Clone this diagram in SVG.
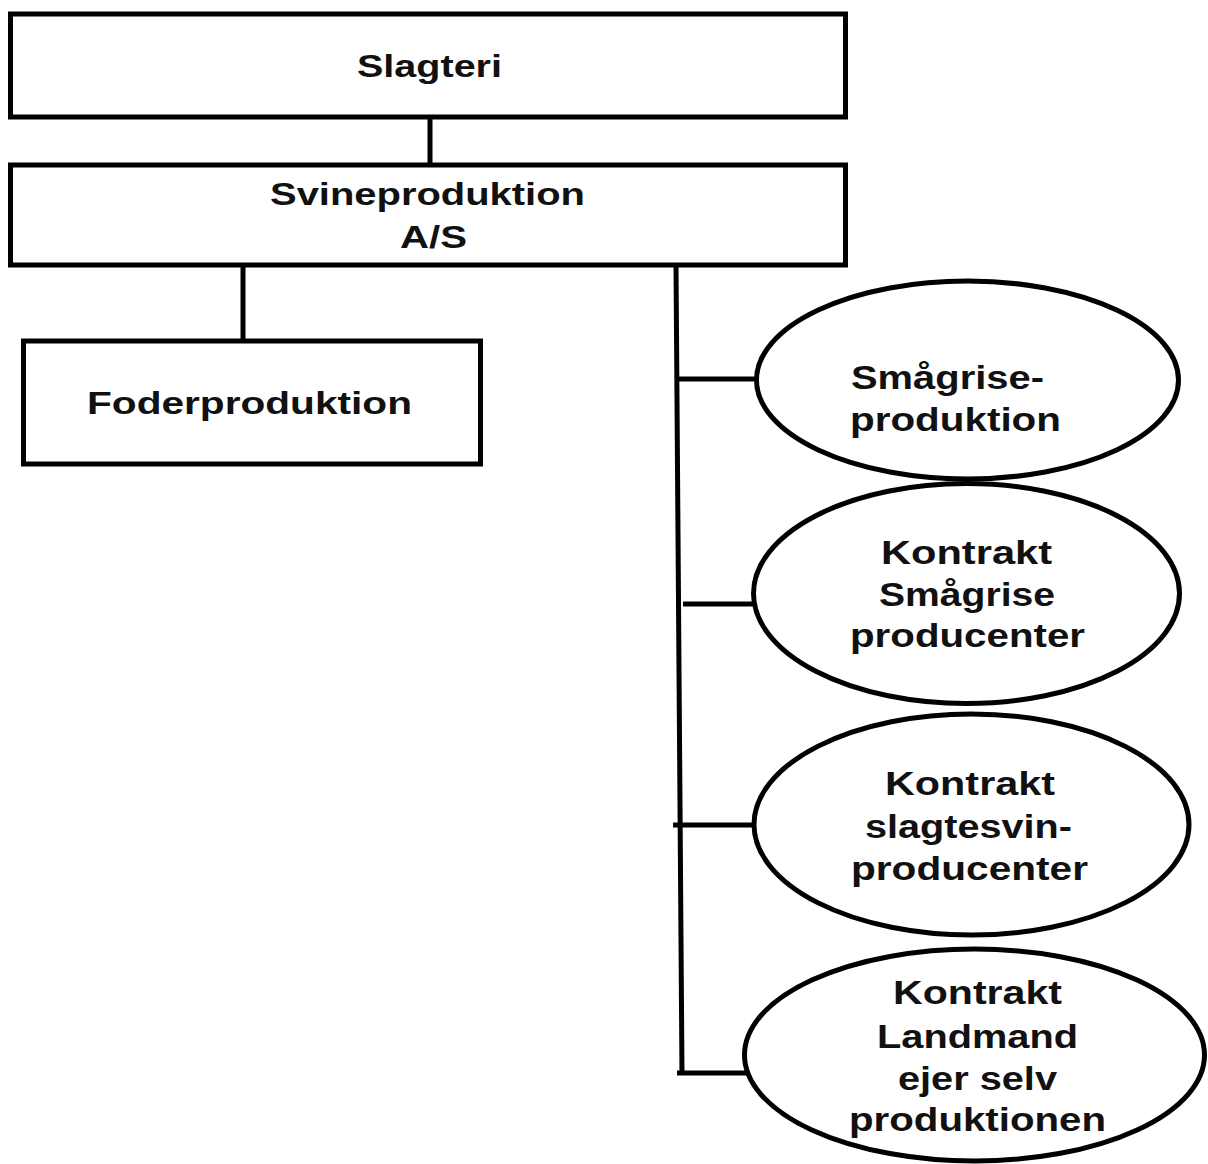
<svg xmlns="http://www.w3.org/2000/svg" width="1208" height="1164" viewBox="0 0 1208 1164">
<style>
.box{fill:#fff;stroke:#000;stroke-width:5}
.ell{fill:#fff;stroke:#000;stroke-width:5}
.ln{stroke:#000;stroke-width:5;fill:none;stroke-linecap:butt}
.t{font-family:"Liberation Sans",Arial,sans-serif;font-weight:bold;fill:#111;text-anchor:start}
.tb{font-size:31px}
.te{font-size:34px}
</style>
<rect width="1208" height="1164" fill="#fff"/>
<g id="connectors">
<line class="ln" x1="430" y1="117" x2="430" y2="166"/>
<line class="ln" x1="243" y1="264" x2="243" y2="342"/>
<line class="ln" x1="676" y1="264" x2="682" y2="1075"/>
<line class="ln" x1="676" y1="379" x2="756" y2="379"/>
<line class="ln" x1="683" y1="604" x2="762" y2="604"/>
<line class="ln" x1="673" y1="825" x2="754" y2="825"/>
<line class="ln" x1="677" y1="1073" x2="755" y2="1073"/>
</g>
<g id="slagteri">
<rect class="box" x="10.5" y="14" width="835" height="103"/>
<text class="t tb" x="357" y="77" textLength="145" lengthAdjust="spacingAndGlyphs">Slagteri</text>
</g>
<g id="svineproduktion">
<rect class="box" x="10.5" y="165" width="835" height="100"/>
<text class="t tb" x="270" y="205" textLength="315" lengthAdjust="spacingAndGlyphs">Svineproduktion</text>
<text class="t tb" x="400" y="248" textLength="67" lengthAdjust="spacingAndGlyphs">A/S</text>
</g>
<g id="foderproduktion">
<rect class="box" x="23.5" y="341" width="457" height="123"/>
<text class="t tb" x="87" y="414" textLength="325" lengthAdjust="spacingAndGlyphs">Foderproduktion</text>
</g>
<g id="smagriseproduktion">
<ellipse class="ell" cx="967.5" cy="380" rx="211" ry="99"/>
<text class="t te" x="851" y="389" textLength="193" lengthAdjust="spacingAndGlyphs">Smågrise-</text>
<text class="t te" x="850" y="431" textLength="211" lengthAdjust="spacingAndGlyphs">produktion</text>
</g>
<g id="kontrakt-smagrise">
<ellipse class="ell" cx="966.5" cy="593.5" rx="213" ry="110"/>
<text class="t te" x="881" y="564" textLength="171" lengthAdjust="spacingAndGlyphs">Kontrakt</text>
<text class="t te" x="879" y="606" textLength="176" lengthAdjust="spacingAndGlyphs">Smågrise</text>
<text class="t te" x="850" y="647" textLength="235" lengthAdjust="spacingAndGlyphs">producenter</text>
</g>
<g id="kontrakt-slagtesvin">
<ellipse class="ell" cx="971.5" cy="824.5" rx="217.5" ry="110.5"/>
<text class="t te" x="885" y="795" textLength="170" lengthAdjust="spacingAndGlyphs">Kontrakt</text>
<text class="t te" x="865" y="838" textLength="207" lengthAdjust="spacingAndGlyphs">slagtesvin-</text>
<text class="t te" x="851" y="880" textLength="237" lengthAdjust="spacingAndGlyphs">producenter</text>
</g>
<g id="kontrakt-landmand">
<ellipse class="ell" cx="974.5" cy="1055" rx="230" ry="106"/>
<text class="t te" x="893" y="1004" textLength="169" lengthAdjust="spacingAndGlyphs">Kontrakt</text>
<text class="t te" x="877" y="1048" textLength="201" lengthAdjust="spacingAndGlyphs">Landmand</text>
<text class="t te" x="898" y="1090" textLength="159" lengthAdjust="spacingAndGlyphs">ejer selv</text>
<text class="t te" x="849" y="1131" textLength="257" lengthAdjust="spacingAndGlyphs">produktionen</text>
</g>
</svg>
